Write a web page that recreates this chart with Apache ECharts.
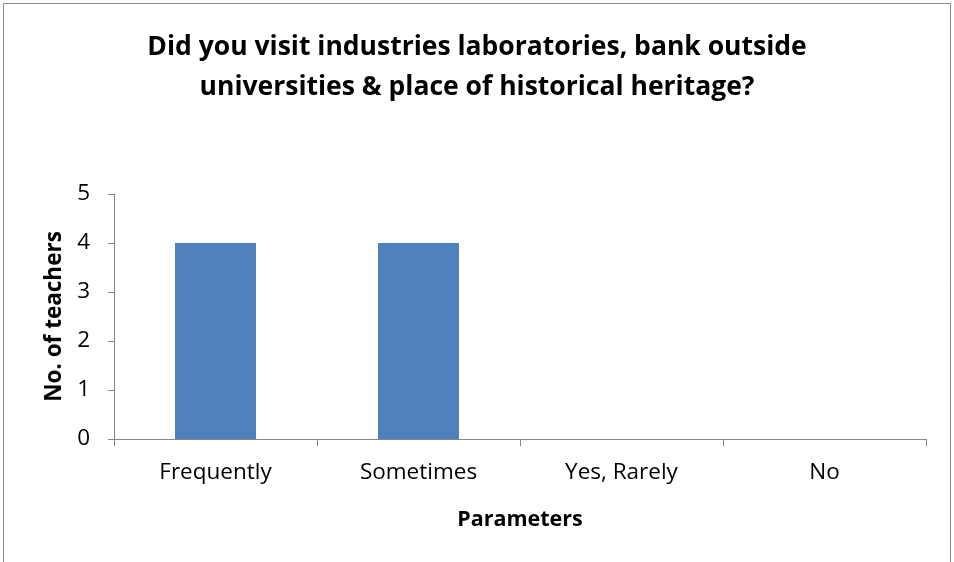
<!DOCTYPE html>
<html>
<head>
<meta charset="utf-8">
<script src="https://cdn.jsdelivr.net/npm/echarts@6/dist/echarts.min.js"></script>
<style>
  html, body { margin: 0; padding: 0; background: #fff; }
  #chart { width: 954px; height: 562px; }
</style>
</head>
<body>
<div id="chart"></div>
<script>
// 数据
var categories = ['Frequently', 'Sometimes', 'Yes, Rarely', 'No']
var teachers = [4, 4, 0, 0]
var yTicks = [0, 1, 2, 3, 4, 5]

var font = 'Open Sans, sans-serif'
var myChart = echarts.init(document.getElementById('chart'))
var option = {
  backgroundColor: '#fff',
  animation: false,
  title: {
    text: 'Did you visit industries laboratories, bank outside\nuniversities & place of historical heritage?',
    left: 'center',
    top: 22,
    textStyle: {
      fontFamily: font,
      fontWeight: 'bold',
      fontSize: 26.5,
      lineHeight: 40,
      color: '#000'
    }
  },
  // 外边框
  graphic: [{
    type: 'rect',
    shape: { x: 3.5, y: 3.5, width: 947, height: 570 },
    style: { fill: 'none', stroke: '#898989', lineWidth: 1 },
    silent: true
  }],
  grid: { left: 114, right: 28, top: 194, bottom: 123 },
  xAxis: {
    type: 'category',
    data: categories,
    name: 'Parameters',
    nameLocation: 'middle',
    nameGap: 70,
    nameTextStyle: { fontFamily: font, fontWeight: 'bold', fontSize: 21.5, color: '#000' },
    axisLine: { lineStyle: { color: '#868686', width: 1 } },
    axisTick: { show: true, alignWithLabel: false, length: 7, lineStyle: { color: '#868686' } },
    axisLabel: { fontFamily: font, fontSize: 22.5, color: '#000', margin: 22 },
    splitLine: { show: false }
  },
  yAxis: {
    type: 'value',
    min: yTicks[0],
    max: yTicks[yTicks.length - 1],
    interval: 1,
    name: 'No. of teachers',
    nameLocation: 'middle',
    nameGap: 48,
    nameTextStyle: { fontFamily: font, fontWeight: 'bold', fontSize: 22.5, color: '#000' },
    axisLine: { show: true, lineStyle: { color: '#868686', width: 1 } },
    axisTick: { show: true, length: 6, lineStyle: { color: '#868686' } },
    axisLabel: { fontFamily: font, fontSize: 22.5, color: '#000', margin: 24 },
    splitLine: { show: false }
  },
  series: [{
    type: 'bar',
    data: teachers,
    barWidth: 81,
    itemStyle: { color: '#4F81BD' }
  }]
}
myChart.setOption(option)
</script>
</body>
</html>
